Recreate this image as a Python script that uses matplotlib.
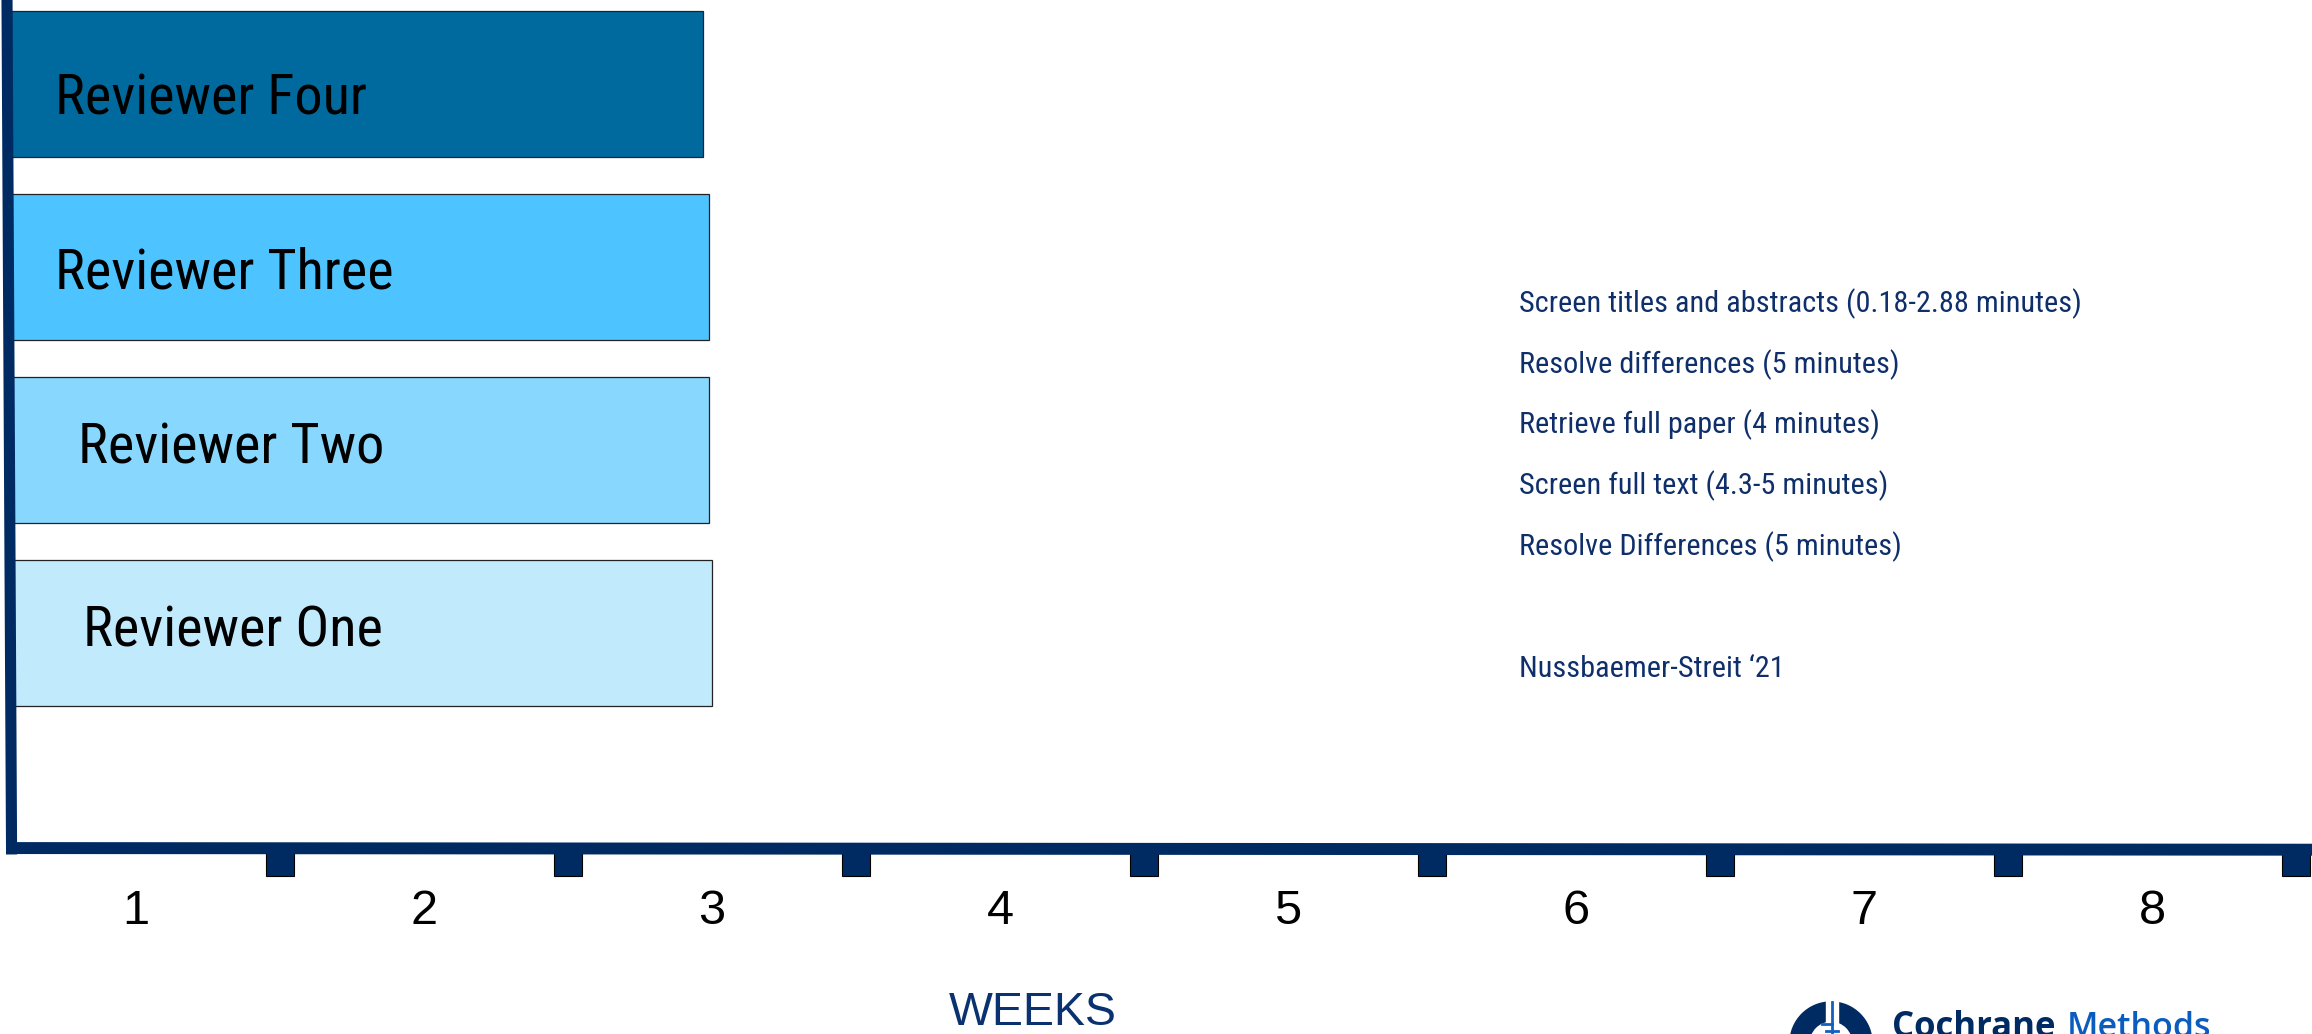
import matplotlib
matplotlib.use('Agg')
import matplotlib.pyplot as plt
from matplotlib.patches import Rectangle, Wedge
from matplotlib import font_manager

# data
reviewers = ['Reviewer One', 'Reviewer Two', 'Reviewer Three', 'Reviewer Four']
bar_end = [3.0, 2.99, 2.99, 2.97]          # weeks
week_labels = ['1', '2', '3', '4', '5', '6', '7', '8']
weeks = [1, 2, 3, 4, 5, 6, 7, 8]
tasks = ['Screen titles and abstracts (0.18-2.88 minutes)',
         'Resolve differences (5 minutes)',
         'Retrieve full paper (4 minutes)',
         'Screen full text (4.3-5 minutes)',
         'Resolve Differences (5 minutes)']
citation = 'Nussbaemer-Streit \u201821'

bar_colors = ['#c2eafd', '#88d7fe', '#4dc4ff', '#006a9f']
label_x = [0.815, 0.80, 0.72, 0.72]
label_dy = [-0.071, -0.071, -0.12, -0.169]
navy = '#002b62'

names = {f.name for f in font_manager.fontManager.ttflist}
narrow = next((n for n in ['Liberation Sans Narrow', 'Roboto Condensed', 'Archivo Narrow']
               if n in names), 'Liberation Sans')

fig = plt.figure(figsize=(23.12, 10.34), dpi=100)
ax = fig.add_axes([0, 0, 1, 1])
ax.set_xlim(0.5278, 8.5556)
ax.set_ylim(-2.191, 3.459)
ax.axis('off')

axis_x = 0.566
ax.barh(range(len(reviewers)), [e - axis_x for e in bar_end], left=axis_x, height=0.8,
        color=bar_colors, edgecolor='#222222', linewidth=0.9, zorder=2)
for i, name in enumerate(reviewers):
    ax.text(label_x[i], i + label_dy[i], name, fontsize=40.5, family=narrow, color='black',
            va='baseline', ha='left', zorder=3)

# axes lines
ax.plot([0.552, 0.568], [3.5, -1.21], color=navy, lw=8, solid_capstyle='butt', zorder=4)
ax.plot([0.549, 8.6], [-1.175, -1.184], color=navy, lw=8.6, solid_capstyle='butt', zorder=4)

# tick squares between weeks
for w in weeks:
    ax.add_patch(Rectangle((w + 0.5 - 0.048, -1.33), 0.097, 0.14, facecolor=navy,
                           edgecolor='black', lw=0.8, zorder=3))
for w, lab in zip(weeks, week_labels):
    ax.text(w, -1.59, lab, fontsize=35, family='Liberation Sans', color='black',
            ha='center', va='baseline')

ax.text(4.115, -2.142, 'WEEKS', fontsize=33.5, family='Liberation Sans', color='#0a3270',
        ha='center', va='baseline')

for i, t in enumerate(tasks):
    ax.text(5.802, 1.754 - i * 0.332, t, fontsize=21.8, family=narrow, color='#0f2f6b',
            ha='left', va='baseline')
ax.text(5.802, -0.240, citation, fontsize=21.8, family=narrow, color='#0f2f6b',
        ha='left', va='baseline')

# logo, drawn in pixel units
lg = fig.add_axes([1780 / 2312, 0, 532 / 2312, 50 / 1034])
lg.set_xlim(1780, 2312)
lg.set_ylim(1034, 984)
lg.axis('off')
lg.add_patch(Wedge((1831, 1043), 41, 0, 360, width=19, color=navy))
lg.add_patch(Rectangle((1826, 995), 12, 40, color='white'))
lg.plot([1832, 1832], [1002, 1034], color='#1060c0', lw=2)
lg.plot([1822, 1832], [1024, 1024], color='#1060c0', lw=2)
lg.plot([1826, 1838], [1031, 1031], color='#1060c0', lw=2)
lg.text(1892, 1037, 'Cochrane', fontsize=25, family='Open Sans', weight='bold',
        color=navy, ha='left', va='baseline')
lg.text(2067, 1037, 'Methods', fontsize=24.5, family='Open Sans', weight='semibold',
        color='#0b5cbf', ha='left', va='baseline')

fig.savefig('out.png', dpi=100)
